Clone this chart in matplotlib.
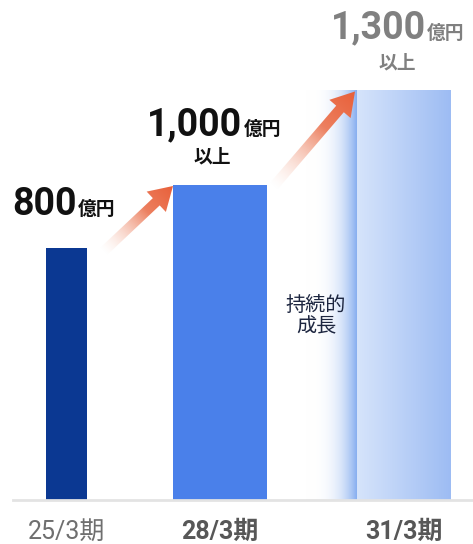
import numpy as np
import matplotlib
matplotlib.use("Agg")
import matplotlib.pyplot as plt
from matplotlib import patches
from matplotlib.colors import to_rgb

# ---- data ----
categories = ["25/3期", "28/3期", "31/3期"]
values = [800, 1000, 1300]
value_labels = ["800", "1,000", "1,300"]
unit_label = "億円"
suffix_labels = ["", "以上", "以上"]
side_note = "持続的\n成長"

# ---- layout (pixel-like x positions) ----
W, H = 473, 544
x_centers = [66.5, 220, 403.5]
widths = [41, 94, 93]
px_per_unit = 0.315
base_px = 500

fig = plt.figure(figsize=(W / 100, H / 100), dpi=100)
ax = fig.add_axes([0, (H - base_px) / H, 1, base_px / H])
ax.set_xlim(0, W)
ax.set_ylim(0, base_px / px_per_unit)
ax.axis("off")

ov = fig.add_axes([0, 0, 1, 1], zorder=5)
ov.set_xlim(0, W)
ov.set_ylim(H, 0)
ov.axis("off")
ov.set_autoscale_on(False)
ov.patch.set_alpha(0)

NUM_FONT = ["Roboto", "DejaVu Sans"]
CJK_FONT = ["Noto Sans CJK JP", "DejaVu Sans"]

# bars 1 and 2
bar_colors = ["#0b3892", "#4a80ea"]
for i in range(2):
    ax.bar(x_centers[i], values[i], width=widths[i], color=bar_colors[i], zorder=2)

# bar 3 gradient
def hgrad(c0, c1, a0=1.0, a1=1.0, n=256, gamma=1.0):
    t = np.linspace(0, 1, n) ** gamma
    c0, c1 = np.array(to_rgb(c0)), np.array(to_rgb(c1))
    rgb = c0[None, :] * (1 - t[:, None]) + c1[None, :] * t[:, None]
    a = a0 * (1 - t) + a1 * t
    img = np.concatenate([rgb, a[:, None]], axis=1)[None, :, :]
    return img

x3l = x_centers[2] - widths[2] / 2
x3r = x_centers[2] + widths[2] / 2
ax.imshow(hgrad("#d6e4fb", "#9dbcf3"), extent=(x3l, x3r, 0, values[2]),
          aspect="auto", origin="lower", zorder=2, interpolation="bilinear")
# fading strip left of bar 3
strip_w = 53
ax.imshow(hgrad("#ffffff", "#86aef0", 0.0, 1.0, gamma=1.6),
          extent=(x3l - strip_w, x3l, 0, values[2]),
          aspect="auto", origin="lower", zorder=1, interpolation="bilinear")
ax.set_xlim(0, W)
ax.set_ylim(0, base_px / px_per_unit)

# baseline
ax.plot([13, W], [0, 0], color="#e3e3e3", lw=2, clip_on=False, zorder=3)

# category labels
cat_styles = [("normal", "#6f6f6f"), ("bold", "#575757"), ("bold", "#575757")]
for xc, lab, (wt, col) in zip(x_centers, categories, cat_styles):
    ax.annotate(lab, (xc, 0), xytext=(0, -32), textcoords="offset pixels",
                ha="center", va="center", fontsize=18, fontweight=wt,
                color=col, family=["Roboto", "Noto Sans CJK JP"], annotation_clip=False)

# value labels
label_cfg = [
    # split x offset from bar center, baseline offset above bar top (px), color, suffix offset
    (10, 33, "#111111", 0),
    (22.5, 50, "#111111", -8),
    (22.5, 52, "#808080", -6.5),
]
for i, (dx, dy, col, sdx) in enumerate(label_cfg):
    ax.annotate(value_labels[i], (x_centers[i], values[i]), xytext=(dx, dy),
                textcoords="offset pixels", ha="right", va="baseline",
                fontsize=27, fontweight="bold", color=col, family=NUM_FONT,
                annotation_clip=False)
    ax.annotate(unit_label, (x_centers[i], values[i]), xytext=(dx + 1, dy),
                textcoords="offset pixels", ha="left", va="baseline",
                fontsize=13.5, fontweight="bold", color=col, family=CJK_FONT,
                annotation_clip=False)
    if suffix_labels[i]:
        ax.annotate(suffix_labels[i], (x_centers[i], values[i]), xytext=(sdx, 28),
                    textcoords="offset pixels", ha="center", va="center",
                    fontsize=13.5, fontweight="bold",
                    color=col, family=CJK_FONT, annotation_clip=False)

# side note
ax.annotate(side_note, (x3l, 0), ha="center", va="center",
            fontsize=14.5, color="#1d2640", family=CJK_FONT, linespacing=1.05,
            xytext=(-41, 184), textcoords="offset pixels", zorder=4)

# gradient arrows
def to_ov(x, y):
    return ov.transData.inverted().transform(ax.transData.transform((x, y)))

def grad_arrow(p0, p1):
    x0, y0 = p0
    x1, y1 = p1
    dx, dy = x1 - x0, y1 - y0
    arr = patches.FancyArrow(x0, y0, dx, dy, width=10, head_width=28, head_length=23,
                             length_includes_head=True, facecolor="none", edgecolor="none")
    ov.add_patch(arr)
    xs = np.linspace(min(x0, x1) - 20, max(x0, x1) + 20, 200)
    ys = np.linspace(min(y0, y1) - 20, max(y0, y1) + 20, 200)
    X, Y = np.meshgrid(xs, ys)
    L2 = dx * dx + dy * dy
    t = np.clip(((X - x0) * dx + (Y - y0) * dy) / L2, 0, 1)
    c0, c1 = np.array(to_rgb("#f7c4b0")), np.array(to_rgb("#e8603a"))
    tt = t ** 0.8
    rgb = c0 * (1 - tt[..., None]) + c1 * tt[..., None]
    alpha = np.clip(t * 1.6, 0, 1) ** 1.2
    img = np.dstack([rgb, alpha])
    im = ov.imshow(img, extent=(xs[0], xs[-1], ys[0], ys[-1]), origin="lower",
                   aspect="auto", interpolation="bilinear")
    im.set_clip_path(arr)

x1r = x_centers[0] + widths[0] / 2
x2l = x_centers[1] - widths[1] / 2
x2r = x_centers[1] + widths[1] / 2
t1 = to_ov(x1r, values[0]); h1 = to_ov(x2l, values[1])
grad_arrow((t1[0] + 16, t1[1] + 4), (h1[0], h1[1] + 1))
t2 = to_ov(x2r, values[1]); h2 = to_ov(x3l, values[2])
grad_arrow((t2[0] + 6, t2[1] + 2), (h2[0] - 2, h2[1] + 1))
ov.set_xlim(0, W)
ov.set_ylim(H, 0)

fig.savefig("out.png", dpi=100)
